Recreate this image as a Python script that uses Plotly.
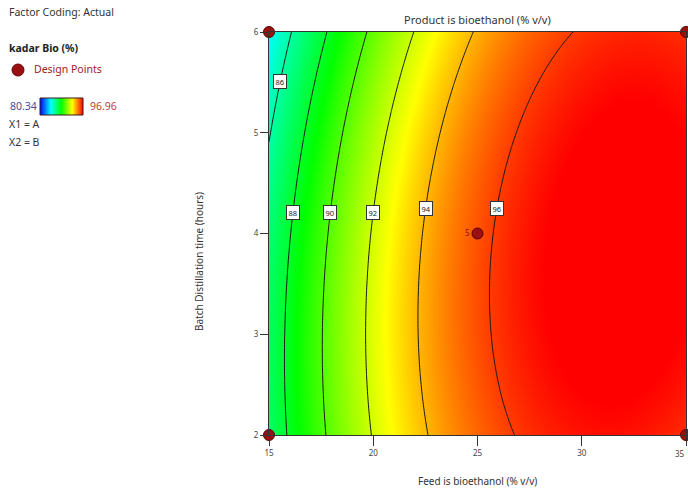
import numpy as np
import plotly.graph_objects as go
from plotly.colors import sample_colorscale

# ---- data ----
# quadratic response-surface model in coded units (a=(A-25)/10, b=(B-4)/2)
coef_names = ["Intercept", "A", "B", "AB", "A^2", "B^2"]
coef_values = [95.63, 5.2, -0.59, 0.6, -3.7, -0.92]

feed_range = [15, 35]
time_range = [2, 6]
x_ticks = [15, 20, 25, 30, 35]
x_tick_labels = ["15", "20", "25", "30", "35"]
y_ticks = [2, 3, 4, 5, 6]

design_feed = [15, 35, 15, 35, 25]
design_time = [2, 2, 6, 6, 4]
design_reps = ["", "", "", "", "5"]

contour_levels = [86, 88, 90, 92, 94, 96]
label_time = [5.51, 4.21, 4.21, 4.21, 4.25, 4.25]

color_min, color_max = 80.34, 96.96

# ---- model evaluation ----
c0, c1, c2, c12, c11, c22 = coef_values


def model(A, B):
    a = (A - 25.0) / 10.0
    b = (B - 4.0) / 2.0
    return c0 + c1 * a + c2 * b + c12 * a * b + c11 * a * a + c22 * b * b


xs = np.linspace(feed_range[0], feed_range[1], 161)
ys = np.linspace(time_range[0], time_range[1], 121)
X, Y = np.meshgrid(xs, ys)
Z = model(X, Y)

colorscale = [[0.0, "#0000ff"], [0.25, "#00ffff"], [0.5, "#00ff00"],
              [0.75, "#ffff00"], [1.0, "#ff0000"]]

fig = go.Figure()
fig.add_trace(go.Contour(
    x=xs, y=ys, z=Z, zmin=color_min, zmax=color_max, zauto=False,
    colorscale=colorscale, showscale=False,
    contours=dict(coloring="heatmap", start=contour_levels[0],
                  end=contour_levels[-1], size=2, showlabels=False),
    line=dict(color="#1a1a1a", width=1),
    hoverinfo="skip",
))

fig.add_trace(go.Scatter(
    x=design_feed, y=design_time, mode="markers+text",
    text=design_reps, textposition="middle left",
    textfont=dict(size=8, color="#8b1010"),
    marker=dict(size=11, color="#9a1010", line=dict(color="#5a0000", width=1)),
    cliponaxis=False, showlegend=False, hoverinfo="skip",
))

# contour labels (boxed), placed on the model line at given time
annotations = []
for lev, bt in zip(contour_levels, label_time):
    b = (bt - 4.0) / 2.0
    qa = c11
    qb = c1 + c12 * b
    qc = c0 + c2 * b + c22 * b * b - lev
    disc = qb * qb - 4 * qa * qc
    roots = [(-qb + np.sqrt(disc)) / (2 * qa), (-qb - np.sqrt(disc)) / (2 * qa)]
    a = min(roots)
    annotations.append(dict(
        x=25 + 10 * a, y=bt, xref="x", yref="y", text=str(lev),
        showarrow=False, font=dict(size=7.5, color="#222"),
        bgcolor="white", bordercolor="#333", borderwidth=1, borderpad=1.5))

L, R, T, Bm = 269, 686, 32, 435
W, H = 688, 489


def px(x):
    return (x - L) / (R - L)


def py(y):
    return (Bm - y) / (Bm - T)


font_family = "Noto Sans, Open Sans, sans-serif"

side_texts = [
    ("Factor Coding: Actual", 7, 12, "#333"),
    ("<b>kadar Bio (%)</b>", 7, 48, "#222"),
    ("Design Points", 32, 69, "#a02020"),
    ("X1 = A", 7, 124, "#333"),
    ("X2 = B", 7, 142, "#333"),
]
for t, x, y, c in side_texts:
    annotations.append(dict(x=px(x), y=py(y), xref="paper", yref="paper",
                            text=t, showarrow=False, xanchor="left",
                            yanchor="middle", font=dict(size=10.5, color=c)))

annotations.append(dict(x=px(39), y=py(106), xref="paper", yref="paper",
                        text=f"{color_min:.2f}", showarrow=False, xanchor="right",
                        yanchor="middle", font=dict(size=10.5, color="#4a4aa0")))
annotations.append(dict(x=px(88), y=py(106), xref="paper", yref="paper",
                        text=f"{color_max:.2f}", showarrow=False, xanchor="left",
                        yanchor="middle", font=dict(size=10.5, color="#c04040")))

annotations.append(dict(x=0.5, y=py(20), xref="paper", yref="paper",
                        text="Product is bioethanol (% v/v)", showarrow=False,
                        xanchor="center", yanchor="middle",
                        font=dict(size=11, color="#333")))
annotations.append(dict(x=0.5, y=py(481), xref="paper", yref="paper",
                        text="Feed is bioethanol (% v/v)", showarrow=False,
                        xanchor="center", yanchor="middle",
                        font=dict(size=10, color="#333")))
annotations.append(dict(x=px(199), y=py(262), xref="paper", yref="paper",
                        text="Batch Distillation time (hours)", showarrow=False,
                        textangle=-90, xanchor="center", yanchor="middle",
                        font=dict(size=10, color="#333")))

# last x tick label sits at the right edge of the window; keep it inside
annotations.append(dict(x=px(687), y=py(454), xref="paper", yref="paper",
                        text=x_tick_labels[-1], showarrow=False,
                        xanchor="right", yanchor="middle",
                        font=dict(size=8, color="#444")))

shapes = [dict(type="circle", xref="paper", yref="paper",
               xsizemode="pixel", ysizemode="pixel",
               xanchor=px(18), yanchor=py(70), x0=-6, x1=6, y0=-6, y1=6,
               fillcolor="#9a1010", line=dict(color="#6a0000", width=1))]

# small gradient legend bar (x 40..83 px, y 98..115 px)
bar_x0, bar_x1, bar_y0, bar_y1 = 40, 83, 98, 115
nseg = bar_x1 - bar_x0
seg_cols = sample_colorscale(colorscale, [(i + 0.5) / nseg for i in range(nseg)])
for i, col in enumerate(seg_cols):
    shapes.append(dict(type="rect", xref="paper", yref="paper",
                       x0=px(bar_x0 + i), x1=px(bar_x0 + i + 1.05),
                       y0=py(bar_y1), y1=py(bar_y0),
                       fillcolor=col, line=dict(width=0), layer="above"))
shapes.append(dict(type="rect", xref="paper", yref="paper",
                   x0=px(bar_x0), x1=px(bar_x1), y0=py(bar_y1), y1=py(bar_y0),
                   fillcolor="rgba(0,0,0,0)",
                   line=dict(color="#3a1a1a", width=1), layer="above"))

axis_common = dict(showgrid=False, zeroline=False, ticks="outside",
                   tickcolor="#333", linecolor="#333", linewidth=1,
                   mirror=True, showline=True, automargin=False,
                   tickfont=dict(size=8, color="#444"))

fig.update_layout(
    template="none",
    width=W, height=H,
    margin=dict(l=L, r=W - R, t=T, b=H - Bm, pad=0),
    paper_bgcolor="white", plot_bgcolor="white",
    font=dict(family=font_family),
    xaxis=dict(range=feed_range, tickvals=x_ticks,
               ticktext=x_tick_labels[:-1] + [""], ticklen=10, **axis_common),
    yaxis=dict(range=time_range, tickvals=y_ticks, ticklen=8, **axis_common),
    annotations=annotations, shapes=shapes, showlegend=False,
)

fig.write_html("out.html")
